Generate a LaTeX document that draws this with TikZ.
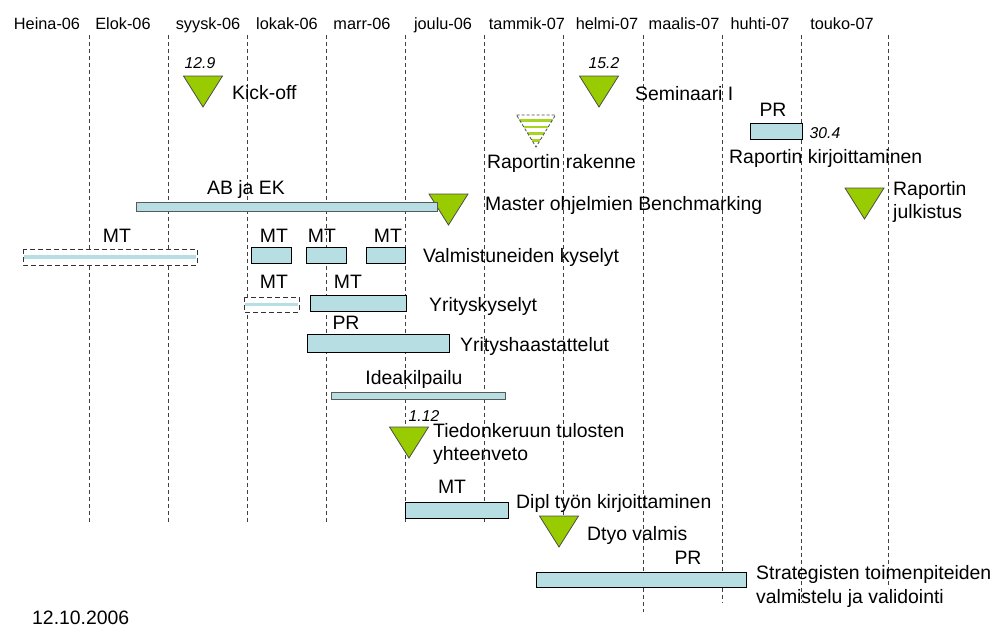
\documentclass[tikz,border=0pt]{standalone}
\usepackage{fontspec}
\setmainfont{Liberation Sans}
\usepackage{tikz}
\definecolor{green500}{HTML}{99CC00}
\definecolor{blue100}{HTML}{B7DEE3}
\tikzstyle{month}=[font=\fontsize{16.3}{18}\selectfont, anchor=base, inner sep=0]
\tikzstyle{task}=[font=\fontsize{19.4}{23}\selectfont, anchor=base west, inner sep=0]
\tikzstyle{who}=[font=\fontsize{19.4}{23}\selectfont, anchor=base, inner sep=0]
\tikzstyle{date}=[font=\fontsize{15.7}{18}\selectfont\itshape, anchor=base, inner sep=0]
\tikzstyle{grid}=[draw=black!75, dash pattern=on 4pt off 3pt, line width=0.8pt]
\tikzstyle{bar}=[draw=black, fill=blue100, line width=0.9pt]
\tikzstyle{planned}=[draw=black!80, dash pattern=on 5pt off 3pt, fill=white, line width=0.9pt]
\tikzstyle{milestone}=[draw=black!70, fill=green500, line width=0.8pt]

\begin{document}
\begin{tikzpicture}[x=1pt, y=-1pt]
			\useasboundingbox (0,0) rectangle (993,627);
			% months
			\foreach \x/\m [count=\i] in {47/Heina-06, 123/Elok-06, 208/syysk-06, 287/lokak-06, 362/marr-06, 443/joulu-06, 527/tammik-07, 607/helmi-07, 684/maalis-07, 760/huhti-07, 842/touko-07}
				\node[month] (h\i) at (\x,29) {\m};
			\foreach \x/\e in {89/523, 168/523, 247/523, 326/523, 405/523, 484/523, 563/523, 643/612, 722/603, 801/603, 888/588}
				\draw[grid] (\x,35) -- (\x,\e);
			% milestones
			\foreach \x/\y in {203/76, 599/76, 448.5/194, 864.5/188, 409/427, 559/516}
				\draw[milestone] (\x,\y) ++(-19.5,0) -- ++(39,0) -- ++(-19.5,31) -- cycle;
			\begin{scope}
				\clip (536,115) ++(-19.5,0) -- ++(39,0) -- ++(-19.5,32) -- cycle;
				\foreach \s in {120.5,127,133.5,140.5}
					\fill[green500!85] (515,\s-1.2) rectangle (557,\s+1.2);
			\end{scope}
			\draw[draw=black!70, dash pattern=on 3pt off 2pt, line width=0.8pt] (536,115) ++(-19.5,0) -- ++(39,0) -- ++(-19.5,32) -- cycle;
			% bars
			\draw[bar, draw=black!65] (136,202) rectangle (437,211);
			\draw[planned] (23,249) rectangle (197,265);
			\fill[blue100] (24,255) rectangle (196,258.5);
			\draw[bar] (251,247) rectangle (291,263);
			\draw[bar] (306,247) rectangle (346,263);
			\draw[bar] (366,247) rectangle (405,263);
			\draw[planned] (244,297) rectangle (299,312);
			\fill[blue100] (245,303) rectangle (298,306);
			\draw[bar] (310,295) rectangle (406,311);
			\draw[bar] (307,334) rectangle (449,352);
			\draw[bar, draw=black!65] (331,392) rectangle (505,399);
			\draw[bar] (750,123) rectangle (802,139);
			\draw[bar] (405,502) rectangle (508,518);
			\draw[bar] (536,572) rectangle (746,587);
			% labels
			\node[date] (kickd) at (200,68) {12.9};
			\node[task] (kick) at (232,99) {Kick-off};
			\node[date] (semd) at (604,68) {15.2};
			\node[task] (sem) at (635,100) {Seminaari I};
			\node[task] (rakenne) at (487,168) {Raportin rakenne};
			\node[who] (pr3) at (773,116) {PR};
			\node[date] (kirjd) at (825,138) {30.4};
			\node[task] (kirj) at (729,163) {Raportin kirjoittaminen};
			\node[who] (abek) at (246,194) {AB ja EK};
			\node[task] (bench) at (485,210) {Master ohjelmien Benchmarking};
			\node[task] (julk1) at (893,195) {Raportin};
			\node[task] (julk2) at (893,218) {julkistus};
			\foreach \x [count=\i] in {117,274,322,388}
				\node[who] (mt\i) at (\x,242) {MT};
			\node[task] (valm) at (423,262) {Valmistuneiden kyselyt};
			\node[who] (mt5) at (274,288) {MT};
			\node[who] (mt6) at (348,288) {MT};
			\node[task] (yrk) at (429,311) {Yrityskyselyt};
			\node[who] (pr1) at (346,329) {PR};
			\node[task] (yrh) at (460,351) {Yrityshaastattelut};
			\node[who] (idea) at (414,384) {Ideakilpailu};
			\node[date] (tiedd) at (424,421) {1.12};
			\node[task] (tied1) at (433,437) {Tiedonkeruun tulosten};
			\node[task] (tied2) at (433,460) {yhteenveto};
			\node[who] (mt7) at (452,493) {MT};
			\node[task] (dipl) at (516,508) {Dipl työn kirjoittaminen};
			\node[task] (dtyo) at (587,540) {Dtyo valmis};
			\node[who] (pr2) at (688,564) {PR};
			\node[task] (strat1) at (756,579) {Strategisten toimenpiteiden};
			\node[task] (strat2) at (756,603) {valmistelu ja validointi};
			\node[task] (pvm) at (32,624) {12.10.2006};
		\end{tikzpicture}
\end{document}
